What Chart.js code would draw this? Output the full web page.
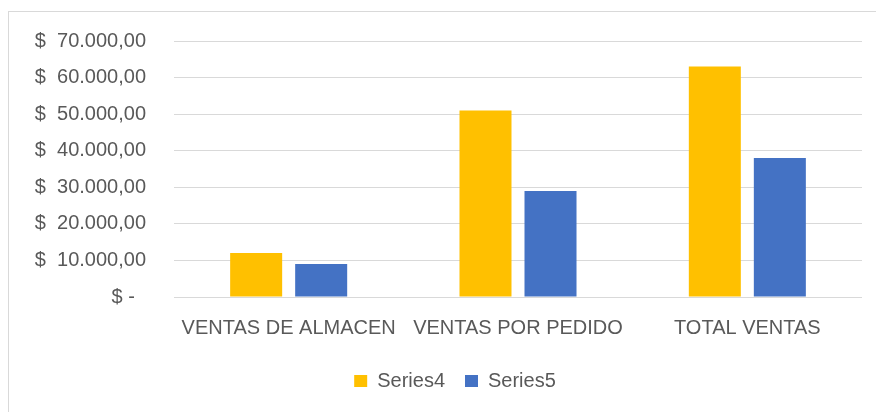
<!DOCTYPE html>
<html>
<head>
<meta charset="utf-8">
<script src="https://cdn.jsdelivr.net/npm/chart.js@4"></script>
<style>
  html, body { margin: 0; padding: 0; background: #fff; }
  #wrap { position: relative; width: 876px; height: 412px; }
  #marco { position: absolute; left: 8px; top: 11px; right: -2px; bottom: -2px; border-left: 1px solid #d9d9d9; border-top: 1px solid #d9d9d9; }
</style>
</head>
<body>
<div id="wrap">
  <div id="marco"></div>
  <canvas id="grafica" width="876" height="412"></canvas>
</div>
<script>
// Datos de la gráfica
const categorias = ['VENTAS DE ALMACEN', 'VENTAS POR PEDIDO', 'TOTAL VENTAS'];
const series4 = [12000, 51000, 63000];
const series5 = [9000, 29000, 38000];
const ticksY = [0, 10000, 20000, 30000, 40000, 50000, 60000, 70000];

const fuente = '"Liberation Sans", Arial, sans-serif';
const gris = '#595959';

// formato contable: "$  70.000,00" y "$ -" para el cero
function formatoPesos(v) {
  if (v === 0) return '$ -  ';
  const entero = Math.floor(v).toString().replace(/\B(?=(\d{3})+(?!\d))/g, '.');
  return '$  ' + entero + ',00';
}

// la leyenda va algo corrida a la derecha, como en el original
const moverLeyenda = {
  id: 'moverLeyenda',
  afterLayout(chart) {
    chart.legend.left += 24;
    chart.legend.right += 24;
  }
};

const ctx = document.getElementById('grafica').getContext('2d');
new Chart(ctx, {
  type: 'bar',
  data: {
    labels: categorias,
    datasets: [
      { label: 'Series4', data: series4, backgroundColor: '#FFC000', categoryPercentage: 0.567, barPercentage: 0.8 },
      { label: 'Series5', data: series5, backgroundColor: '#4472C4', categoryPercentage: 0.567, barPercentage: 0.8 }
    ]
  },
  options: {
    responsive: false,
    animation: false,
    layout: { padding: { top: 41, right: 14, bottom: 11, left: 0 } },
    scales: {
      y: {
        min: 0,
        max: 70000,
        afterBuildTicks: (eje) => { eje.ticks = ticksY.map(v => ({ value: v })); },
        afterFit: (eje) => { eje.width = 174; },
        grid: { color: '#d9d9d9', lineWidth: 1, drawTicks: false },
        border: { display: false },
        ticks: {
          padding: 28,
          color: gris,
          font: { family: fuente, size: 20 },
          callback: (v) => formatoPesos(v)
        }
      },
      x: {
        afterFit: (eje) => { eje.height = 54; },
        grid: { display: false, drawTicks: false },
        border: { display: false },
        ticks: {
          padding: 19,
          color: gris,
          font: { family: fuente, size: 20 }
        }
      }
    },
    plugins: {
      legend: {
        position: 'bottom',
        labels: {
          boxWidth: 13,
          boxHeight: 12,
          padding: 20,
          color: gris,
          font: { family: fuente, size: 20 }
        }
      },
      tooltip: { enabled: false }
    }
  },
  plugins: [moverLeyenda]
});
</script>
</body>
</html>
